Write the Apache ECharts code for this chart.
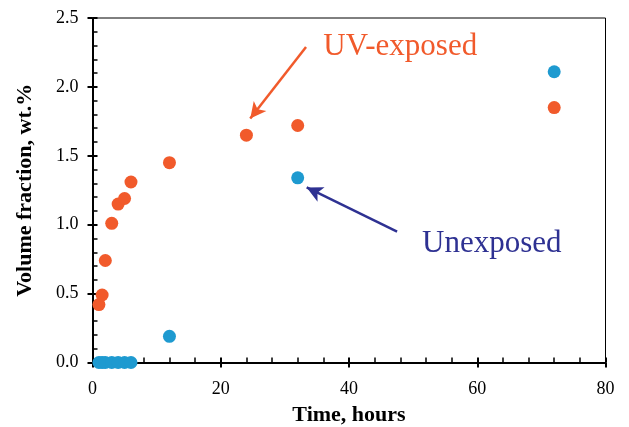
<!DOCTYPE html>
<html><head><meta charset="utf-8">
<script src="https://cdn.jsdelivr.net/npm/echarts@6/dist/echarts.min.js"></script>
<style>html,body{margin:0;padding:0;background:#fff}#c{width:629px;height:427px}</style>
</head><body><div id="c"></div>
<script>
const uvTime = [1, 1.5, 2, 3, 4, 5, 6, 12, 24, 32, 72];
const uvValue = [0.42, 0.49, 0.74, 1.01, 1.15, 1.19, 1.31, 1.45, 1.65, 1.72, 1.85];
const unTime = [1, 1.5, 2, 3, 4, 5, 6, 12, 32, 72];
const unValue = [0, 0, 0, 0, 0, 0, 0, 0.19, 1.34, 2.11];
const xTicks = [0, 20, 40, 60, 80];
const yTicks = [0.0, 0.5, 1.0, 1.5, 2.0, 2.5];
// annotation anchors in data units
const uvArrow = [[33.3, 2.29], [24.6, 1.77]];
const unArrow = [[47.5, 0.95], [33.4, 1.27]];
const uvText = [36.0, 2.23];
const unText = [51.4, 0.80];

const ORANGE = '#F15A2B', BLUE = '#1E9AD0', NAVY = '#2E3192';
const FONT = '"Liberation Serif", "Times New Roman", serif';

const chart = echarts.init(document.getElementById('c'), null, {renderer: 'canvas'});
const zip = (a, b) => a.map((v, i) => [v, b[i]]);

const opt = {
  animation: false,
  backgroundColor: '#fff',
  grid: {left: 92.5, right: 23.5, top: 18, bottom: 64.5, containLabel: false, outerBoundsMode: 'none',
         show: true, borderColor: '#000', borderWidth: 1, backgroundColor: 'transparent'},
  xAxis: [{
    type: 'value', min: xTicks[0], max: xTicks[xTicks.length - 1], interval: 20,
    axisLine: {show: true, onZero: false, lineStyle: {color: '#000', width: 2}},
    axisTick: {show: true, inside: true, length: 5, lineStyle: {color: '#000', width: 2}},
    minorTick: {show: true, splitNumber: 5, length: 5, lineStyle: {color: '#000', width: 1.5}},
    axisLabel: {color: '#000', fontFamily: FONT, fontSize: 18, margin: 18},
    splitLine: {show: false},
    name: 'Time, hours', nameLocation: 'middle', nameGap: 42,
    nameTextStyle: {color: '#000', fontFamily: FONT, fontSize: 22, fontWeight: 'bold'}
  }, {
    type: 'value', position: 'bottom', min: 0, max: 80, interval: 20,
    axisLine: {show: false}, axisLabel: {show: false}, splitLine: {show: false},
    axisTick: {show: true, inside: false, length: 5, lineStyle: {color: '#000', width: 2}}
  }],
  yAxis: [{
    type: 'value', min: 0, max: 2.5, interval: 0.5,
    axisLine: {show: true, onZero: false, lineStyle: {color: '#000', width: 2}},
    axisTick: {show: true, inside: true, length: 5, lineStyle: {color: '#000', width: 2}},
    minorTick: {show: true, splitNumber: 5, length: 5, lineStyle: {color: '#000', width: 1.5}},
    axisLabel: {color: '#000', fontFamily: FONT, fontSize: 18, margin: 14, formatter: v => v.toFixed(1)},
    splitLine: {show: false},
    name: 'Volume fraction, wt.%', nameLocation: 'middle', nameGap: 56,
    nameTextStyle: {color: '#000', fontFamily: FONT, fontSize: 22, fontWeight: 'bold'}
  }, {
    type: 'value', position: 'left', min: 0, max: 2.5, interval: 0.5,
    axisLine: {show: false}, axisLabel: {show: false}, splitLine: {show: false},
    axisTick: {show: true, inside: false, length: 5, lineStyle: {color: '#000', width: 2}}
  }],
  series: [{
    type: 'scatter', name: 'UV-exposed', data: zip(uvTime, uvValue),
    symbolSize: 13, itemStyle: {color: ORANGE, opacity: 1},
    markLine: {
      silent: true, symbol: ['none', 'arrow'], symbolSize: [12, 16],
      lineStyle: {color: ORANGE, width: 2.5, type: 'solid'}, label: {show: false},
      data: [[{coord: uvArrow[0]}, {coord: uvArrow[1]}]]
    }
  }, {
    type: 'scatter', name: 'Unexposed', data: zip(unTime, unValue),
    symbolSize: 13, itemStyle: {color: BLUE, opacity: 1},
    markLine: {
      silent: true, symbol: ['none', 'arrow'], symbolSize: [12, 16],
      lineStyle: {color: NAVY, width: 2.5, type: 'solid'}, label: {show: false},
      data: [[{coord: unArrow[0]}, {coord: unArrow[1]}]]
    }
  }]
};
chart.setOption(opt);
const p1 = chart.convertToPixel({gridIndex: 0}, uvText);
const p2 = chart.convertToPixel({gridIndex: 0}, unText);
chart.setOption({
  graphic: [
    {type: 'text', left: p1[0], top: p1[1] - 24, style: {text: 'UV-exposed', fill: ORANGE, font: '31px ' + FONT}},
    {type: 'text', left: p2[0], top: p2[1] - 24, style: {text: 'Unexposed', fill: NAVY, font: '31px ' + FONT}}
  ]
});
</script></body></html>
